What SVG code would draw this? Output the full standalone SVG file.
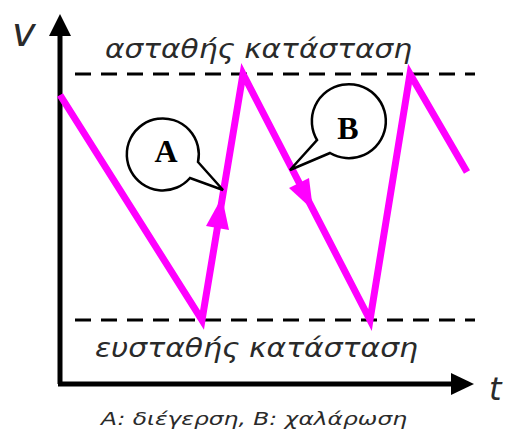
<svg xmlns="http://www.w3.org/2000/svg" width="506" height="432" viewBox="0 0 506 432">
<style>
.lbl{font-family:"DejaVu Sans","Liberation Sans",sans-serif;font-style:italic;fill:#2a2a2a}
.ax{stroke:#000;stroke-width:5;fill:none}
.dash{stroke:#000;stroke-width:3;stroke-dasharray:16,10;fill:none}
.wave{stroke:#ff00ff;stroke-width:7;fill:none;stroke-linejoin:miter}
.call{fill:#fff;stroke:#000;stroke-width:2.5}
.callt{font-family:"Liberation Serif",serif;font-weight:bold;font-size:32px;fill:#000}
</style>
<rect width="506" height="432" fill="#fff"/>
<g id="axes">
<line class="ax" x1="60" y1="384" x2="60" y2="32"/>
<polygon points="60,14 49,36 71,36" fill="#000"/>
<line class="ax" x1="58" y1="384" x2="454" y2="384"/>
<polygon points="474,384 451,373 451,395" fill="#000"/>
<text class="lbl" x="12" y="46" font-size="40">v</text>
<text class="lbl" x="489" y="400" font-size="32">t</text>
</g>
<g id="levels">
<line class="dash" x1="75" y1="74" x2="475" y2="74"/>
<line class="dash" x1="75" y1="320" x2="475" y2="320"/>
<text class="lbl" x="105" y="58" font-size="26" textLength="307" lengthAdjust="spacingAndGlyphs">ασταθής κατάσταση</text>
<text class="lbl" x="95" y="357" font-size="26" textLength="323" lengthAdjust="spacingAndGlyphs">ευσταθής κατάσταση</text>
</g>
<g id="connectors">
<polyline class="wave" points="60,95 202,320 243,74 370,320 410,74 467,172"/>
<polygon points="222,197 229,230 206,226" fill="#ff00ff"/>
<polygon points="313,210 309,178 289,188" fill="#ff00ff"/>
</g>
<g id="callout-A">
<path class="call" d="M198,162 A36,36 0 1 0 190,178 L223,190 Z"/>
<text class="callt" x="166" y="162" text-anchor="middle">A</text>
</g>
<g id="callout-B">
<path class="call" d="M317,140 A37,37 0 1 1 330,153 L290,170 Z"/>
<text class="callt" x="348" y="139" text-anchor="middle">B</text>
</g>
<g id="caption">
<text class="lbl" x="101" y="425" font-size="17" textLength="306" lengthAdjust="spacingAndGlyphs">A: διέγερση, B: χαλάρωση</text>
</g>
</svg>
